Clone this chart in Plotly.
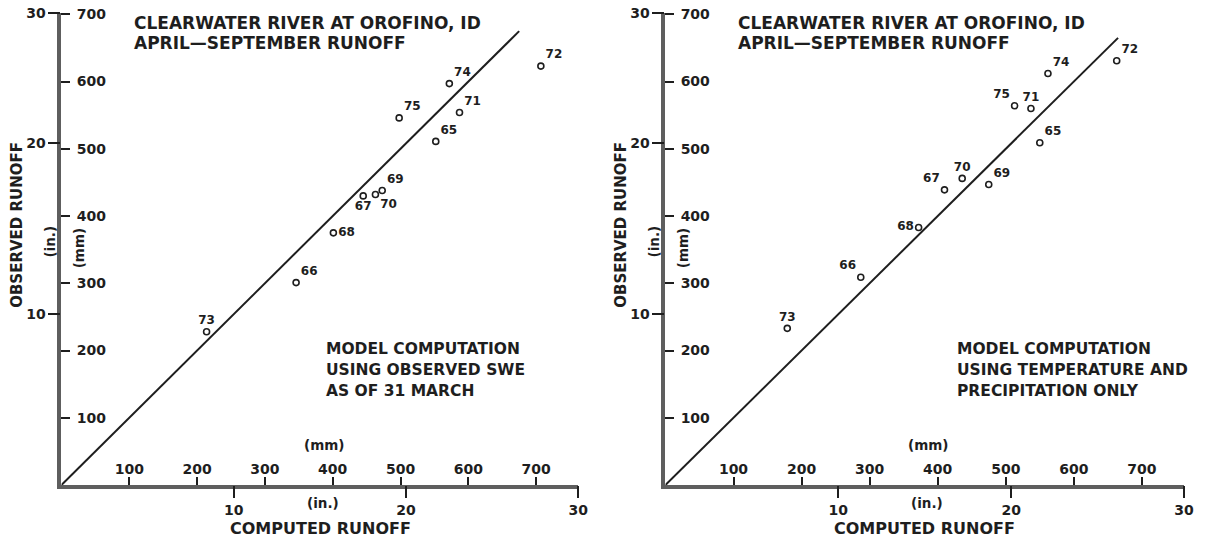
import plotly.graph_objects as go

W, H = 1205, 546
MT, MB = 13, 61
PLOT_H = H - MT - MB

# ---------------- data (mm) ----------------
YEARS = ["65", "66", "67", "68", "69", "70", "71", "72", "73", "74", "75"]

LEFT_COMPUTED = [552, 346, 445, 401, 473, 463, 587, 707, 214, 572, 498]
LEFT_OBSERVED = [511, 301, 430, 375, 438, 432, 554, 623, 228, 597, 546]
LEFT_LABEL_POS = ["top right", "top right", "bottom center", "middle right", "top right",
                  "bottom right", "top right", "top right", "top center", "top right", "top right"]

RIGHT_COMPUTED = [550, 287, 410, 372, 475, 436, 537, 663, 179, 562, 513]
RIGHT_OBSERVED = [509, 309, 439, 383, 447, 456, 560, 631, 233, 612, 564]
RIGHT_LABEL_POS = ["top right", "top left", "top left", "middle left", "top right",
                   "top center", "top center", "top right", "top center", "top right", "top left"]

LINE_LEFT = [0, 675]
LINE_RIGHT = [0, 665]

MM_TICKS = [100, 200, 300, 400, 500, 600, 700]
IN_TICKS = [10, 20, 30]
IN_TICK_TEXT = ["10", "20", "30"]

X_MAX_MM = 762
Y_MAX_MM = 702

TITLE_1 = "CLEARWATER RIVER AT OROFINO, ID"
TITLE_2 = "APRIL\u2014SEPTEMBER RUNOFF"
LEFT_NOTE = ["MODEL COMPUTATION", "USING OBSERVED SWE", "AS OF 31 MARCH"]
RIGHT_NOTE = ["MODEL COMPUTATION", "USING TEMPERATURE AND", "PRECIPITATION ONLY"]

FONT = "DejaVu Sans, Liberation Sans, sans-serif"
INK = "#1e1e1e"
AXIS_GREY = "#5e5e5e"

PANELS = [
    dict(x0=62, x1=583, comp=LEFT_COMPUTED, obs=LEFT_OBSERVED, pos=LEFT_LABEL_POS,
         line=LINE_LEFT, note=LEFT_NOTE, note_dx=265, ax=("x", "y", "x2", "y2")),
    dict(x0=671, x1=1194, comp=RIGHT_COMPUTED, obs=RIGHT_OBSERVED, pos=RIGHT_LABEL_POS,
         line=LINE_RIGHT, note=RIGHT_NOTE, note_dx=292, ax=("x3", "y3", "x4", "y4")),
]


def px(x):
    return x / W


def py(y):
    return (H - MB - y) / PLOT_H


fig = go.Figure()
annotations = []
layout_axes = {}

tick_font = dict(family=FONT, size=14, color=INK, weight="bold")


def ann(text, x, y, size=16, xanchor="left", angle=0):
    annotations.append(dict(text=text, x=px(x), y=py(y), xref="paper", yref="paper",
                            xanchor=xanchor, yanchor="middle", showarrow=False,
                            textangle=angle,
                            font=dict(family=FONT, size=size, color=INK, weight="bold")))


for p in PANELS:
    xa, ya, xa2, ya2 = p["ax"]
    # 1:1 line
    fig.add_trace(go.Scatter(x=p["line"], y=p["line"], mode="lines",
                             line=dict(color=INK, width=2), xaxis=xa, yaxis=ya,
                             hoverinfo="skip", showlegend=False))
    # points
    fig.add_trace(go.Scatter(x=p["comp"], y=p["obs"], mode="markers+text",
                             text=YEARS, textposition=p["pos"],
                             textfont=dict(family=FONT, size=12, color=INK, weight="bold"),
                             marker=dict(symbol="circle-open", size=6, color=INK,
                                         line=dict(color=INK, width=1.6)),
                             xaxis=xa, yaxis=ya, showlegend=False))
    # dummy trace for inch axes
    fig.add_trace(go.Scatter(x=[None], y=[None], xaxis=xa2, yaxis=ya2,
                             showlegend=False, hoverinfo="skip"))

    dom = [p["x0"] / W, p["x1"] / W]
    xname = "xaxis" + xa[1:]
    yname = "yaxis" + ya[1:]
    x2name = "xaxis" + xa2[1:]
    y2name = "yaxis" + ya2[1:]

    layout_axes[xname] = dict(domain=dom, range=[0, X_MAX_MM], anchor=ya,
                              tickmode="array", tickvals=MM_TICKS,
                              ticks="inside", ticklen=8, tickwidth=2, tickcolor=INK,
                              ticklabelposition="inside", ticklabeloverflow="allow",
                              tickfont=tick_font,
                              showline=True, linewidth=4, linecolor=AXIS_GREY,
                              showgrid=False, zeroline=False)
    layout_axes[x2name] = dict(overlaying=xa, anchor=ya, side="bottom",
                               range=[0, X_MAX_MM / 25.4],
                               tickmode="array", tickvals=IN_TICKS, ticktext=IN_TICK_TEXT,
                               ticks="outside", ticklen=12, tickwidth=2, tickcolor=INK,
                               tickfont=tick_font, showline=False,
                               showgrid=False, zeroline=False)
    layout_axes[yname] = dict(domain=[0, 1], range=[0, Y_MAX_MM], anchor=xa,
                              tickmode="array", tickvals=MM_TICKS,
                              ticks="inside", ticklen=9, tickwidth=2, tickcolor=INK,
                              ticklabelposition="inside", ticklabeloverflow="allow",
                              ticklabelstandoff=6,
                              tickfont=tick_font,
                              showline=True, linewidth=4, linecolor=AXIS_GREY,
                              showgrid=False, zeroline=False)
    y_in_top = Y_MAX_MM / 25.4
    layout_axes[y2name] = dict(overlaying=ya, anchor=xa, side="left",
                               range=[0, y_in_top],
                               tickmode="array",
                               tickvals=[IN_TICKS[0], IN_TICKS[1], y_in_top * 0.9995],
                               ticktext=IN_TICK_TEXT,
                               ticks="outside", ticklen=12, tickwidth=2, tickcolor=INK,
                               tickfont=tick_font, showline=False,
                               showgrid=False, zeroline=False)

    o = p["x0"]
    # title
    ann(TITLE_1, o + 71, 23, size=17)
    ann(TITLE_2, o + 71, 43, size=17)
    # note
    for i, t in enumerate(p["note"]):
        ann(t, o + p["note_dx"], 349 + 21 * i, size=15.5)
    # axis titles
    ann("OBSERVED RUNOFF", o - 45, 225, size=15, xanchor="center", angle=-90)
    ann("(in.)", o - 12, 242, size=13.5, xanchor="center", angle=-90)
    ann("(mm)", o + 18, 248, size=13.5, xanchor="center", angle=-90)
    ann("(mm)", o + 265, 445, size=13.5, xanchor="center")
    ann("(in.)", o + 264, 503, size=13.5, xanchor="center")
    ann("COMPUTED RUNOFF", o + 261, 528, size=16, xanchor="center")

fig.update_layout(
    width=W, height=H,
    margin=dict(l=0, r=0, t=MT, b=MB),
    paper_bgcolor="white", plot_bgcolor="white",
    showlegend=False,
    annotations=annotations,
    **layout_axes,
)

fig.write_html("out.html")
